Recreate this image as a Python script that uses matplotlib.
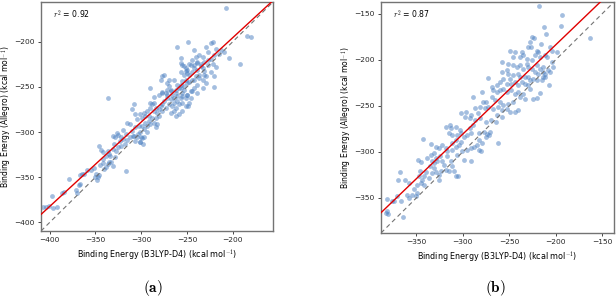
import numpy as np
import matplotlib
matplotlib.use("Agg")
import matplotlib.pyplot as plt

plt.rcParams["mathtext.fontset"] = "cm"

# panel (a): B3LYP-D4 vs Allegro binding energies (kcal/mol)
a_pts = [
    (-407, -382.5), (-404, -382.5), (-400.5, -382), (-396.5, -384), (-391.5, -383), (-397, -371),
    (-387, -367), (-384, -366.5), (-378.7, -351.5), (-371.4, -364), (-370, -367), (-367.7, -358.8),
    (-366.6, -357), (-365, -346), (-362, -346.8), (-367, -347), (-359, -341.6), (-355, -342.4),
    (-352, -339.4), (-349.3, -346), (-347.5, -349.7), (-350.4, -349.7), (-345.7, -347.9),
    (-348.2, -352.6), (-344.6, -336.9), (-342, -334.4), (-340.2, -340.5), (-338.3, -338.8),
    (-336.5, -335), (-334.7, -333.3), (-333, -333), (-331, -337), (-334, -326), (-329, -328),
    (-345.7, -315), (-343.8, -319.7), (-341.3, -322.3), (-338.3, -326), (-342, -329.6),
    (-336.5, -320.5), (-334.7, -324.1), (-331, -318.6), (-327.3, -320.5), (-325.4, -316.9),
    (-321.8, -315), (-329.2, -313.1), (-323.7, -309.5), (-320, -307.7), (-318.2, -313.1),
    (-331, -304), (-329, -305.9), (-325.4, -303), (-321.8, -305), (-316.3, -302.2), (-312.7, -305.9),
    (-309, -304), (-303.4, -302.2), (-299.8, -305.9), (-301.6, -311.4), (-297.9, -313.1),
    (-307.2, -309.5), (-316.3, -343.1), (-326, -301), (-320, -298), (-316, -309),
    (-336.8, -262), (-308.2, -269.4), (-310, -274.8), (-306.4, -280.3), (-315.5, -289.4),
    (-311.9, -291.3),
    (-300.9, -280.3), (-297.2, -278.5), (-293.5, -276.7), (-295.4, -282.1), (-299, -284),
    (-304.5, -285.8), (-291.7, -282.1), (-289.9, -273), (-288, -269.4), (-286.2, -267.5),
    (-289.9, -267.5), (-284.3, -273), (-286.2, -276.7), (-282.5, -278.5), (-280.7, -274.8),
    (-278.8, -271.2), (-277, -276.7), (-280.7, -282.1), (-284.3, -284), (-288, -284),
    (-291.7, -287.6), (-295.4, -289.4), (-299, -293.1), (-302.7, -293.1), (-306.4, -294.9),
    (-310, -298.5), (-308.2, -304), (-304.5, -305.9), (-300.9, -300.4), (-297.2, -296.7),
    (-293.5, -293.1), (-289.9, -291.3), (-286.2, -289.4), (-282.5, -291.3), (-284.3, -294.9),
    (-293.5, -300.4), (-297.2, -305.9), (-300.9, -311.3), (-299, -306.6),
    (-289.9, -251.1), (-286.2, -261.3), (-280.7, -258.4), (-277, -256.6), (-273.3, -256.6),
    (-271.5, -252.9), (-269.7, -249.3), (-267.8, -254.8), (-266, -258.4), (-264.2, -262.1),
    (-260.5, -260.2), (-262.3, -252.9), (-258.7, -251.1), (-256.8, -247.4), (-255, -243.8),
    (-251.3, -242), (-249.5, -245.6), (-253.2, -252.9), (-255, -256.6), (-256.8, -262.1),
    (-260.5, -265.7), (-264.2, -267.5), (-267.8, -263.9), (-271.5, -262.1), (-275.2, -265.7),
    (-277, -269.4), (-273.3, -273), (-269.7, -269.4), (-266, -271.2), (-262.3, -273),
    (-258.7, -269.4), (-255, -267.5), (-251.3, -262.1), (-249.5, -258.4), (-245.8, -254.8),
    (-242.1, -251.1), (-245.8, -262.1), (-247.6, -267.5), (-251.3, -271.2), (-255, -276.7),
    (-258.7, -280.3), (-262.3, -282.1), (-267.8, -278.5), (-264.2, -276.7), (-249, -271),
    (-256.8, -223.7), (-253.2, -227.4), (-249.5, -231), (-245.8, -225.5), (-242.1, -229.2),
    (-238.5, -223.7), (-234.8, -227.4), (-231.1, -232.9), (-236.6, -236.5), (-240.3, -238.3),
    (-247.6, -236.5), (-251.3, -232.9), (-244, -242), (-233, -242), (-229.3, -238.3),
    (-238.5, -247.4), (-277, -238.3), (-278.8, -242), (-269.7, -242),
    (-207.3, -162.8), (-184.2, -193.1), (-180.5, -194.2), (-192.6, -224.1), (-203.7, -217.5),
    (-209.2, -211.3), (-212.8, -209.5), (-222, -200.4), (-223.9, -201.5), (-229.4, -205.9),
    (-242.2, -209.5), (-248.8, -200.4), (-260.5, -205.9), (-256.9, -217.5), (-244, -220.5),
    (-240.4, -216.8), (-236.7, -215), (-233, -216.8), (-227.5, -211.3), (-218.3, -207.7),
    (-214.7, -213.2), (-220.2, -215), (-223.9, -218.6), (-227.5, -220.5), (-231.2, -222.3),
    (-234.9, -224.1), (-238.5, -222.3), (-242.2, -225.9), (-247.7, -224.1), (-251.4, -229.6),
    (-255, -225.9), (-256.9, -233.2), (-253.2, -236.9), (-249.6, -235), (-244, -233.2),
    (-238.5, -231.4), (-233, -229.6), (-227.5, -225.9), (-222, -224.1), (-231.2, -236.9),
    (-236.7, -240.5), (-242.2, -242.4), (-247.7, -244.2), (-220.2, -238), (-223.9, -233.2),
    (-218.3, -227.8), (-229.4, -246), (-220.2, -249.7), (-238.5, -257), (-244, -254),
    (-249.6, -258.8), (-271.6, -246), (-275.2, -236.9), (-264.2, -242.4), (-260.5, -247.8),
    (-256.9, -251.5), (-253.2, -248.9), (-267.9, -253.3), (-262.4, -257), (-271.6, -258.8),
    (-255, -260.6), (-277, -255.1), (-233, -251.5),
]

# panel (b)
b_pts = [
    (-217.9, -142.1), (-193.1, -151.5), (-194.5, -163.7), (-212.5, -164.8), (-210.7, -172.4),
    (-163.3, -176.7), (-226.1, -175.6), (-223.6, -176.7), (-227.9, -181), (-216.1, -182.8),
    (-229.7, -186.5), (-227.2, -186.5), (-220.7, -190.1), (-218.9, -191.9), (-206.4, -186.5),
    (-204.6, -190.1), (-199.2, -191.9), (-211.8, -194.7), (-222.5, -195.5), (-217.1, -197.3),
    (-236.9, -191.9), (-244.1, -191.9), (-238.7, -197.3), (-235.1, -195.5), (-231.5, -199.1),
    (-226.1, -200.9), (-249.4, -190.1), (-245.9, -197.3), (-258.4, -202.7), (-251.2, -204.5),
    (-245.9, -206.3), (-242.3, -208.1), (-238.7, -206.3), (-235.1, -209.9), (-231.5, -204.5),
    (-229.7, -208.1), (-226.1, -209.9), (-220.7, -206.3), (-217.1, -209.9), (-213.5, -208.1),
    (-208.2, -211.7), (-206.4, -213.5), (-211.8, -215.3), (-222.5, -213.5), (-218.9, -215.3),
    (-258.4, -213.5), (-253, -211.7), (-251.2, -215.3), (-245.9, -217.1), (-240.5, -215.3),
    (-238.7, -218.9), (-233.3, -218.9), (-229.7, -218.9), (-227.9, -222.5), (-224.3, -220.7),
    (-272.8, -220), (-256.6, -220.7), (-249.4, -220.7), (-253, -226.1), (-247.7, -226.1),
    (-244.1, -224.3), (-240.5, -227.9), (-236.9, -224.3), (-233.3, -226.1), (-229.7, -227.9),
    (-227.9, -231.5), (-215.3, -222.5), (-213.5, -218.9), (-207.1, -227.9), (-260.2, -224.3),
    (-263.8, -227.9), (-269.2, -229.7), (-267.4, -233.3), (-263.8, -235.1), (-260.2, -233.3),
    (-256.6, -231.5), (-253, -235.1), (-247.7, -233.3), (-244.1, -236.9), (-240.5, -235.1),
    (-238.7, -240.5), (-235.1, -236.9), (-233.3, -242.3), (-224.3, -242.3), (-220, -241.6),
    (-278.9, -235.1), (-288.9, -240.5), (-269.2, -240.5), (-265.6, -244.1), (-260.2, -245.9),
    (-274.6, -245.9), (-278.2, -245.9), (-272.8, -251.3), (-267.4, -253.1), (-262, -251.3),
    (-256.6, -249.5), (-251.2, -247.7), (-245.9, -245.9), (-258.4, -254.9), (-253, -253.1),
    (-220.8, -222), (-217.2, -236.5), (-213.6, -213), (-211.8, -218.5), (-210, -196.9),
    (-204.6, -202.3), (-202.8, -207.7),
    (-281.8, -250.9), (-276.5, -252.8), (-244.1, -256.4), (-240.6, -254.6), (-249.5, -257),
    (-287.2, -252.8), (-283.6, -258.2), (-290.8, -260), (-296.2, -256.4), (-301.6, -258.2),
    (-298, -261.8), (-292.6, -263.6), (-287.2, -265.4), (-281.8, -263.6), (-274.7, -267.2),
    (-269.3, -265.4), (-263.9, -267.2), (-317.7, -272.6), (-314.2, -270.8), (-312.4, -274.4),
    (-307, -272.6), (-303.4, -276.2), (-292.6, -274.4), (-289, -270.8), (-271.1, -278),
    (-262.1, -289.9), (-263, -260), (-258, -262),
    (-342.5, -285.9), (-334.6, -291.7), (-331.1, -312.2), (-329.3, -306.8), (-327.5, -310.4),
    (-324.6, -305), (-322.1, -310.4), (-320.3, -314), (-318.5, -319.4), (-316.7, -305),
    (-313.1, -310.4), (-311.3, -315.8), (-334.6, -303.2), (-331.1, -301.4), (-332.9, -310.4),
    (-338.2, -306.8), (-348.3, -308.6), (-345.4, -311.2), (-329.3, -294.2), (-325.7, -296),
    (-322.1, -292.4), (-318.5, -296), (-316.7, -299.6), (-311.3, -297.8), (-307.7, -294.2),
    (-304.1, -292.4), (-302.3, -288.8), (-307.7, -287), (-311.3, -290.6), (-305.9, -281.6),
    (-302.3, -279.8), (-314.9, -279.8), (-311.3, -281.6), (-298.7, -283.4), (-295.1, -281.6),
    (-291.6, -279.8), (-300.5, -299.6), (-295.1, -297.8), (-291.6, -296), (-288, -294.2),
    (-282.6, -297.8), (-280.8, -299.6), (-282.6, -287), (-279, -290.6), (-275.4, -283.4),
    (-271.8, -281.6), (-284.4, -292.4), (-290.9, -310.4), (-305.9, -303.2), (-298.7, -308.6),
    (-282.6, -279.8), (-277.2, -278), (-273.6, -280.5),
    (-367.7, -322.3), (-369.8, -331), (-362.7, -330.3), (-358, -333.9), (-382, -351.2),
    (-383.1, -366.3), (-381.3, -364.5), (-380.6, -367), (-364.1, -371), (-374.1, -353),
    (-375.9, -353.7), (-371.3, -348.3), (-366.9, -353.7), (-359.8, -346.5), (-358, -350.1),
    (-352.6, -340.4), (-350.8, -348.3), (-349, -344.7), (-354.4, -346.5), (-349.7, -335.7),
    (-345.4, -333.9), (-341.8, -335.7), (-343.6, -330.3), (-347.2, -326.7), (-346.1, -321.3),
    (-340, -322.3), (-341.8, -326.7), (-336.5, -328.5), (-335.4, -315.8), (-331.1, -317.6),
    (-332.9, -323.1), (-329.3, -322.3), (-325.7, -324.9), (-323.9, -321.3), (-325.7, -330.3),
    (-314.9, -321.3), (-309.5, -321.3), (-307.7, -326.7), (-305.2, -326.7),
]

# regression lines (slope, intercept) as drawn in the figure
a_fit = (0.934, -8.7)
b_fit = (0.969, 10.0)

r2_labels = ["0.92", "0.87"]
captions = ["(a)", "(b)"]
limits = [(-409.5, -156), (-388, -137.5)]
ticks = [np.arange(-400, -199, 50), np.arange(-350, -149, 50)]

fig = plt.figure(figsize=(6.16, 2.98), dpi=100)
axes = [
    fig.add_axes([41 / 616, 1 - 231 / 298, 232 / 616, 229 / 298]),
    fig.add_axes([381 / 616, 1 - 233 / 298, 233 / 616, 231 / 298]),
]
cap_x = [153 / 616, 495 / 616]

for ax, pts, fit, r2, cap, lim, tk, cx in zip(axes, [a_pts, b_pts], [a_fit, b_fit],
                                               r2_labels, captions, limits, ticks, cap_x):
    x = np.array([p[0] for p in pts])
    y = np.array([p[1] for p in pts])
    ax.scatter(x, y, s=12, color="#4a7fc1", alpha=0.5, linewidths=0, zorder=2)

    ax.plot(lim, lim, ls=(0, (4, 3)), color="0.45", lw=0.8, zorder=3)
    xx = np.array(lim)
    ax.plot(xx, fit[0] * xx + fit[1], color="#e00000", lw=1.0, zorder=4)

    ax.set_xlim(lim)
    ax.set_ylim(lim)
    ax.set_xticks(tk)
    ax.set_yticks(tk)
    ax.tick_params(labelsize=5.4, length=2.5, width=0.6, pad=2, colors="0.15")
    for sp in ax.spines.values():
        sp.set_color("0.45")
        sp.set_linewidth(1.0)

    ax.set_xlabel(r"Binding Energy (B3LYP-D4) (kcal mol$^{-1}$)", fontsize=5.8, labelpad=3)
    ax.set_ylabel(r"Binding Energy (Allegro) (kcal mol$^{-1}$)", fontsize=5.5)
    ax.yaxis.set_label_coords(-0.118, 0.5)
    ax.text(0.05, 0.975, r"$r^2$ = " + r2, transform=ax.transAxes, fontsize=5.6,
            ha="left", va="top")

    fig.text(cx, 1 - 288 / 298, r"$\mathbf{" + cap + "}$", fontsize=11,
             ha="center", va="center")

fig.savefig("out.png", dpi=100)
